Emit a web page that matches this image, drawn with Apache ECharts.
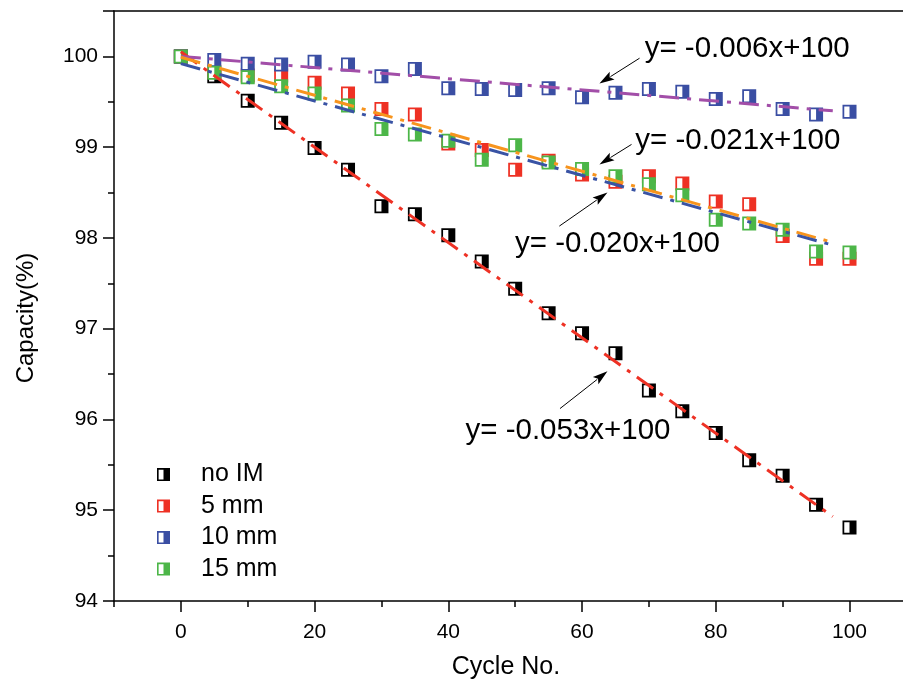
<!DOCTYPE html>
<html><head><meta charset="utf-8">
<script src="https://cdn.jsdelivr.net/npm/echarts@6/dist/echarts.min.js"></script>
<style>html,body{margin:0;padding:0;background:#fff}#c{width:903px;height:691px}</style>
</head><body><div id="c"></div>
<script>
// ---- data ----
const cycles = [0,5,10,15,20,25,30,35,40,45,50,55,60,65,70,75,80,85,90,95,100];
const noIM = [100,99.78,99.51,99.27,98.99,98.75,98.35,98.26,98.03,97.74,97.44,97.17,96.95,96.73,96.32,96.09,95.85,95.55,95.38,95.06,94.81];
const mm5  = [100,99.83,99.79,99.79,99.71,99.59,99.42,99.36,99.04,98.97,98.75,98.85,98.70,98.62,98.68,98.60,98.40,98.37,98.02,97.77,97.77];
const mm10 = [100,99.96,99.92,99.91,99.94,99.91,99.78,99.86,99.65,99.64,99.63,99.65,99.55,99.60,99.64,99.61,99.53,99.56,99.42,99.36,99.39];
const mm15 = [100,99.82,99.77,99.67,99.59,99.46,99.20,99.14,99.07,98.86,99.02,98.83,98.76,98.68,98.59,98.47,98.20,98.16,98.09,97.85,97.84];
// fitted lines (end points)
const fitRed    = [[0,100.05],[97.5,94.93]];
const fitPurple = [[0,100.00],[97.5,99.40]];
const fitOrange = [[0,99.99],[97.5,97.95]];
const fitBlue   = [[0,99.92],[97.5,97.92]];
const xMajorTicks = [0,20,40,60,80,100];
const xMinorTicks = [-10,10,30,50,70,90];
const seriesNames = ['no IM','5 mm','10 mm','15 mm'];
const annotations = [
  {text:'y= -0.006x+100', at:[84.7,100.08], tail:[68.6,99.98], head:[62.6,99.70]},
  {text:'y= -0.021x+100', at:[83.3,99.07], tail:[67.4,99.03], head:[62.6,98.81]},
  {text:'y= -0.020x+100', at:[65.3,97.93], tail:[56.6,98.13], head:[63.8,98.50]},
  {text:'y= -0.053x+100', at:[57.9,95.87], tail:[56.7,96.12], head:[63.8,96.53]}
];

const FONT = "'Liberation Sans', Arial, Helvetica, sans-serif";
const colors = {black:'#000000', red:'#ee3124', blue:'#3a4ea3', green:'#4cb648', orange:'#f7941d', purple:'#a24ea8', lblue:'#3953a4'};
const HALF = 'path://M0,0 L12,0 L12,12 L0,12 Z M1.5,1.5 L1.5,10.5 L6,10.5 L6,1.5 Z';

function pairs(vals){ return cycles.map((c,i)=>[c, vals[i]]); }

function markerSeries(name, vals, color){
  return [
    {name: name+'_bg', type:'scatter', data: pairs(vals), symbol:'rect', symbolSize:12,
     itemStyle:{color:'#ffffff', opacity:1}, silent:true, z:2},
    {name: name, type:'scatter', data: pairs(vals), symbol: HALF, symbolSize:14,
     itemStyle:{color: color, opacity:1}, z:2}
  ];
}
function fitSeries(data, color){
  return {type:'line', data:data, showSymbol:false, symbol:'none', silent:true, z:4,
    lineStyle:{color:color, width:3, type:[20,8,4,8]}};
}

const chart = echarts.init(document.getElementById('c'), null, {renderer:'canvas'});
const axisLine = {show:true, onZero:false, lineStyle:{color:'#000', width:1.5}};
const XMIN = -10, XMAX = 108;
const option = {
  animation:false,
  backgroundColor:'#fff',
  grid:{left:114, top:11, right:0, bottom:90, show:false},
  xAxis:[
    {type:'value', min:XMIN, max:XMAX, interval:10, axisLine:axisLine,
     axisTick:{show:true, inside:false, length:11, customValues:xMajorTicks, lineStyle:{color:'#000', width:1.5}},
     axisLabel:{customValues:xMajorTicks, color:'#000', fontSize:21, fontFamily:FONT, margin:21},
     splitLine:{show:false},
     name:'Cycle No.', nameLocation:'middle', nameGap:54,
     nameTextStyle:{color:'#000', fontSize:25, fontFamily:FONT, padding:[0,5,0,0]}},
    {type:'value', min:XMIN, max:XMAX, interval:10, position:'bottom', offset:0,
     axisLine:{show:false, onZero:false},
     axisTick:{show:true, inside:false, length:6, customValues:xMinorTicks, lineStyle:{color:'#000', width:1.5}},
     axisLabel:{show:false}, splitLine:{show:false}},
    {type:'value', min:XMIN, max:XMAX, interval:10, position:'top', offset:0,
     axisLine:axisLine, axisTick:{show:false}, axisLabel:{show:false}, splitLine:{show:false}}
  ],
  yAxis:{type:'value', min:94, max:100.5, interval:1, axisLine:axisLine,
     axisTick:{show:true, inside:false, length:11, lineStyle:{color:'#000', width:1.5}},
     minorTick:{show:true, splitNumber:2, length:6, lineStyle:{color:'#000', width:1.5}},
     axisLabel:{color:'#000', fontSize:21, fontFamily:FONT, margin:16,
       formatter:v=> (v===100.5 ? '' : String(v))},
     splitLine:{show:false},
     name:'Capacity(%)', nameLocation:'middle', nameGap:76,
     nameTextStyle:{color:'#000', fontSize:24, fontFamily:FONT, padding:[0,24,0,0]}},
  legend:{orient:'vertical', left:152, top:457, itemWidth:13, itemHeight:13, itemGap:6.5,
     textStyle:{color:'#000', fontSize:25, fontFamily:FONT, lineHeight:25, padding:[0,0,0,26]},
     selectedMode:false,
     data:[
       {name:'no IM', icon:HALF, itemStyle:{color:colors.black, borderWidth:0}},
       {name:'5 mm', icon:HALF, itemStyle:{color:colors.red, borderWidth:0}},
       {name:'10 mm', icon:HALF, itemStyle:{color:colors.blue, borderWidth:0}},
       {name:'15 mm', icon:HALF, itemStyle:{color:colors.green, borderWidth:0}}
     ]},
  series:[
    ...markerSeries('no IM', noIM, colors.black),
    ...markerSeries('5 mm', mm5, colors.red),
    ...markerSeries('10 mm', mm10, colors.blue),
    ...markerSeries('15 mm', mm15, colors.green),
    fitSeries(fitRed, colors.red),
    fitSeries(fitPurple, colors.purple),
    fitSeries(fitOrange, colors.orange),
    fitSeries(fitBlue, colors.lblue)
  ]
};
chart.setOption(option);

// annotations (text + arrows), anchored in data coordinates
const g = [];
annotations.forEach(a=>{
  const p = chart.convertToPixel({xAxisIndex:0, yAxisIndex:0}, a.at);
  const t = chart.convertToPixel({xAxisIndex:0, yAxisIndex:0}, a.tail);
  const h = chart.convertToPixel({xAxisIndex:0, yAxisIndex:0}, a.head);
  g.push({type:'text', x:p[0], y:p[1], z:10,
    style:{text:a.text, fill:'#000', font:'29.5px '+FONT, textAlign:'center', textVerticalAlign:'middle'}});
  const dx=h[0]-t[0], dy=h[1]-t[1], len=Math.hypot(dx,dy), ux=dx/len, uy=dy/len;
  const L=15, W=4.5;
  const bx=h[0]-ux*L, by=h[1]-uy*L;
  g.push({type:'line', z:10, shape:{x1:t[0], y1:t[1], x2:bx+ux*2, y2:by+uy*2}, style:{stroke:'#000', lineWidth:1}});
  g.push({type:'polygon', z:10, shape:{points:[[h[0],h[1]],[bx-uy*W,by+ux*W],[bx+ux*3,by+uy*3],[bx+uy*W,by-ux*W]]}, style:{fill:'#000'}});
});
chart.setOption({graphic:g});
</script>
</body></html>
